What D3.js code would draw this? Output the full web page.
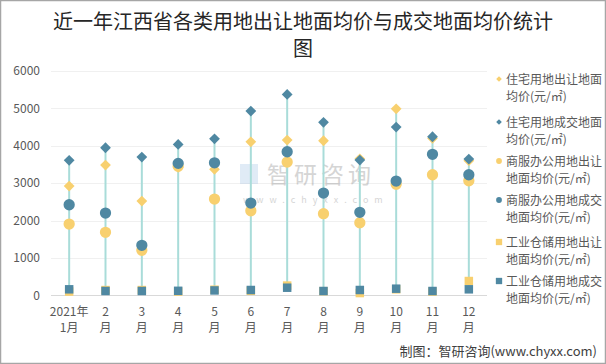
<!DOCTYPE html>
<html><head><meta charset="utf-8">
<script src="https://cdn.jsdelivr.net/npm/d3@7"></script>
<style>
body{margin:0;background:#fff;}
svg{display:block;font-family:"Noto Sans CJK SC","Microsoft YaHei",sans-serif;}
</style></head>
<body><svg id="c" width="606" height="364"></svg>
<script>
const months = ["1","2","3","4","5","6","7","8","9","10","11","12"];
const monthLine1 = ["2021年","2","3","4","5","6","7","8","9","10","11","12"];
const monthLine2 = ["1月","月","月","月","月","月","月","月","月","月","月","月"];
const yTicks = [0,1000,2000,3000,4000,5000,6000];

const resSell = [2922,3484,2521,3422,3369,4107,4152,4134,3650,4989,4200,3600];
const resDeal = [3610,3947,3698,4037,4187,4928,5374,4626,3618,4500,4241,3644];
const comSell = [1906,1684,1203,3450,2575,2262,3564,2182,1941,2968,3225,3064];
const comDeal = [2422,2200,1337,3529,3545,2468,3840,2735,2219,3056,3770,3225];
const indSell = [100,140,140,100,150,120,260,110,60,160,100,382];
const indDeal = [160,115,115,120,130,142,203,115,142,177,115,160];

const seriesNames = [
  ["住宅用地出让地面","均价(元/㎡)"],
  ["住宅用地成交地面","均价(元/㎡)"],
  ["商服办公用地出让","地面均价(元/㎡)"],
  ["商服办公用地成交","地面均价(元/㎡)"],
  ["工业仓储用地出让","地面均价(元/㎡)"],
  ["工业仓储用地成交","地面均价(元/㎡)"]
];
const YEL = "#f8d06f", BLU = "#4f88a2", LINE = "#a9dcd9";
const series = [
  {vals:resSell, shape:"diamond", color:YEL},
  {vals:resDeal, shape:"diamond", color:BLU},
  {vals:comSell, shape:"circle", color:YEL},
  {vals:comDeal, shape:"circle", color:BLU},
  {vals:indSell, shape:"square", color:YEL},
  {vals:indDeal, shape:"square", color:BLU}
];

const svg = d3.select("#c");
svg.append("rect").attr("x",0.5).attr("y",0.5).attr("width",605).attr("height",363)
  .attr("fill","#fff").attr("stroke","#a6a6a6").attr("stroke-width",1.5);

const x = d3.scaleBand().domain(months).range([51,487]);
const y = d3.scaleLinear().domain([0,6000]).range([295.3,71]);

// title
const title = svg.append("text").attr("text-anchor","middle").attr("fill","#262626")
  .attr("font-size",20).attr("font-family","'Noto Sans CJK SC',serif");
title.append("tspan").attr("x",303).attr("y",29).text("近一年江西省各类用地出让地面均价与成交地面均价统计");
title.append("tspan").attr("x",303).attr("y",56).text("图");

// grid
svg.append("g").selectAll("line").data(yTicks.slice(1)).join("line")
  .attr("x1",51).attr("x2",487).attr("y1",d=>Math.round(y(d))+0.5).attr("y2",d=>Math.round(y(d))+0.5)
  .attr("stroke","#f0f0f0").attr("stroke-width",1);

// y axis
const yAxis = svg.append("g").attr("transform","translate(40,0)")
  .call(d3.axisLeft(y).tickValues(yTicks).tickFormat(d3.format("d")).tickSize(0).tickPadding(0));
yAxis.select(".domain").remove();
yAxis.selectAll("text").attr("font-size",12).attr("fill","#595959").attr("font-family","'Noto Sans CJK SC',sans-serif");

// watermark
const wm = svg.append("g").attr("opacity",0.35);
wm.append("text").attr("x",267).attr("y",183).attr("font-size",23).attr("fill","#888").attr("letter-spacing",4).text("智研咨询");
wm.append("text").attr("x",243).attr("y",203).attr("font-size",9).attr("fill","#888").attr("letter-spacing",6).text("www.chyxx.com");
wm.append("rect").attr("x",240).attr("y",164).attr("width",18).attr("height",20).attr("fill","#a9c8e6");

// high-low lines
const allS = [resSell,resDeal,comSell,comDeal,indSell,indDeal];
svg.append("g").selectAll("line").data(months).join("line")
  .attr("x1",(d)=>x(d)+x.bandwidth()/2).attr("x2",(d)=>x(d)+x.bandwidth()/2)
  .attr("y1",(d,i)=>y(d3.max(allS,s=>s[i]))).attr("y2",(d,i)=>y(d3.min(allS,s=>s[i])))
  .attr("stroke",LINE).attr("stroke-width",2);

// x axis
svg.append("line").attr("x1",51).attr("x2",487).attr("y1",295.5).attr("y2",295.5)
  .attr("stroke","#d9d9d9").attr("stroke-width",1);
const xl = svg.append("g").selectAll("text").data(months).join("text")
  .attr("text-anchor","middle").attr("font-size",12).attr("fill","#595959");
xl.append("tspan").attr("x",d=>x(d)+x.bandwidth()/2).attr("y",316).text((d,i)=>monthLine1[i]);
xl.append("tspan").attr("x",d=>x(d)+x.bandwidth()/2).attr("y",332).text((d,i)=>monthLine2[i]);

function path(shape){
  if (shape==="diamond") return d3.symbol().type(d3.symbolSquare).size(58)();
  if (shape==="circle") return d3.symbol().type(d3.symbolCircle).size(100)();
  return d3.symbol().type(d3.symbolSquare).size(72)();
}

series.forEach(s=>{
  svg.append("g").selectAll("path").data(s.vals).join("path")
    .attr("d", path(s.shape))
    .attr("transform",(v,i)=>`translate(${x(months[i])+x.bandwidth()/2},${y(v)})`+(s.shape==="diamond"?" rotate(45)":""))
    .attr("fill",s.color);
});

// legend
const lg = svg.append("g");
const lgY = [79,122,161,200,242,281];
series.forEach((s,k)=>{
  const small = s.shape==="diamond" ? d3.symbol().type(d3.symbolSquare).size(16)() :
    s.shape==="circle" ? d3.symbol().type(d3.symbolCircle).size(26)() : d3.symbol().type(d3.symbolSquare).size(40)();
  lg.append("path").attr("d",small)
    .attr("transform",`translate(499,${lgY[k]})`+(s.shape==="diamond"?" rotate(45)":""))
    .attr("fill",s.color);
  const t = lg.append("text").attr("font-size",12).attr("fill","#595959");
  t.append("tspan").attr("x",506).attr("y",lgY[k]+4.5).text(seriesNames[k][0]);
  t.append("tspan").attr("x",506).attr("y",lgY[k]+22).text(seriesNames[k][1]);
});

// footer
svg.append("text").attr("x",597).attr("y",356).attr("text-anchor","end")
  .attr("font-size",13).attr("fill","#404040").text("制图：智研咨询(www.chyxx.com)");
</script></body></html>
